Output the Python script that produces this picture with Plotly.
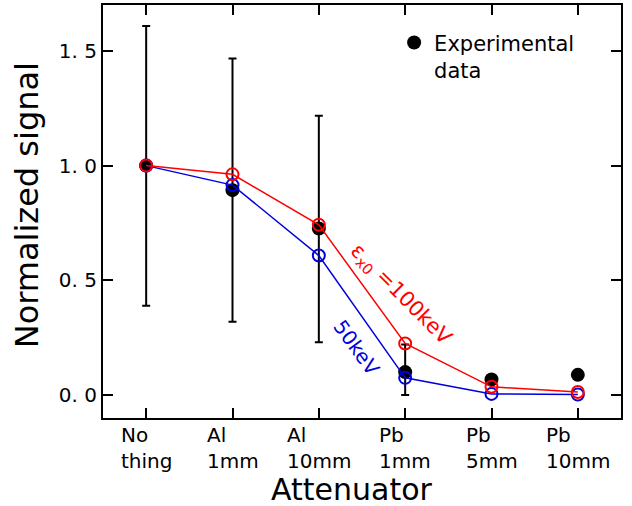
import plotly.graph_objects as go

categories = ["No<br>thing", "Al<br>1mm", "Al<br>10mm", "Pb<br>1mm", "Pb<br>5mm", "Pb<br>10mm"]
x_pos = [0, 1, 2, 3, 4, 5]
exp_data = [1.0, 0.893, 0.726, 0.10, 0.068, 0.088]
exp_err_plus = [0.608, 0.574, 0.491, 0.12, 0.0, 0.0]
exp_err_minus = [0.611, 0.574, 0.496, 0.10, 0.0, 0.0]
sim_100kev = [1.0, 0.962, 0.742, 0.225, 0.036, 0.013]
sim_50kev = [1.0, 0.915, 0.608, 0.075, 0.005, 0.002]
y_tickvals = [0.0, 0.5, 1.0, 1.5]
y_ticktext = ["0. 0", "0. 5", "1. 0", "1. 5"]

FONT = "DejaVu Sans"

fig = go.Figure()
fig.add_trace(go.Scatter(
    x=x_pos, y=exp_data, mode="markers", name="Experimental<br>data",
    marker=dict(color="black", size=14),
    error_y=dict(type="data", array=exp_err_plus, arrayminus=exp_err_minus,
                 color="black", thickness=2, width=4),
    showlegend=True,
))
fig.add_trace(go.Scatter(
    x=x_pos, y=sim_50kev, mode="lines+markers", name="50keV",
    line=dict(color="#0000dd", width=1.5),
    marker=dict(symbol="circle-open", color="#0000dd", size=12, line=dict(width=2)),
    showlegend=False,
))
fig.add_trace(go.Scatter(
    x=x_pos, y=sim_100kev, mode="lines+markers", name="100keV",
    line=dict(color="#ff0000", width=1.5),
    marker=dict(symbol="circle-open", color="#ff0000", size=12, line=dict(width=2)),
    showlegend=False,
))

for xv, lab in zip(x_pos, categories):
    fig.add_annotation(x=xv, y=0, xref="x", yref="paper", text=lab, showarrow=False,
                       xanchor="center", yanchor="top", align="left", yshift=-3,
                       font=dict(size=20, color="black", family=FONT))

fig.add_annotation(x=2.95, y=0.435, xref="x", yref="y",
                   text="ε<sub>x0</sub> =100keV", showarrow=False, textangle=45,
                   font=dict(size=21, color="#ff0000", family=FONT))
fig.add_annotation(x=2.44, y=0.205, xref="x", yref="y",
                   text="50keV", showarrow=False, textangle=54,
                   font=dict(size=20, color="#0000dd", family=FONT))

# axis titles
fig.add_annotation(x=0.48, y=0, xref="paper", yref="paper", text="Attenuator",
                   showarrow=False, xanchor="center", yanchor="middle", yshift=-71,
                   font=dict(size=30, color="black", family=FONT))
fig.add_annotation(x=0, y=0.515, xref="paper", yref="paper", text="Normalized signal",
                   showarrow=False, xanchor="center", yanchor="middle", xshift=-76,
                   textangle=-90, font=dict(size=32, color="black", family=FONT))

fig.update_xaxes(range=[-0.5, 5.5], tickvals=x_pos, showticklabels=False,
                 ticks="inside", ticklen=10, tickwidth=1.5, tickcolor="black",
                 showline=True, linewidth=2, linecolor="black", mirror="ticks",
                 showgrid=False, zeroline=False, automargin=False)
fig.update_yaxes(range=[-0.1, 1.7], tickvals=y_tickvals, ticktext=y_ticktext,
                 ticks="inside", ticklen=10, tickwidth=1.5, tickcolor="black",
                 showline=True, linewidth=2, linecolor="black", mirror="ticks",
                 showgrid=False, zeroline=False, automargin=False,
                 tickfont=dict(size=20, family=FONT, color="black"))
fig.update_layout(
    width=632, height=506, plot_bgcolor="white", paper_bgcolor="white",
    margin=dict(l=103, r=11, t=5, b=88),
    font=dict(family=FONT, color="black"),
    legend=dict(x=0.562, y=0.958, xanchor="left", yanchor="top", bgcolor="rgba(0,0,0,0)",
                font=dict(size=21, family=FONT, color="black"), valign="top",
                itemwidth=30),
)
fig.write_html("out.html", config={"displayModeBar": False},
               post_script="document.body.style.margin='0';document.body.style.overflow='hidden';")
